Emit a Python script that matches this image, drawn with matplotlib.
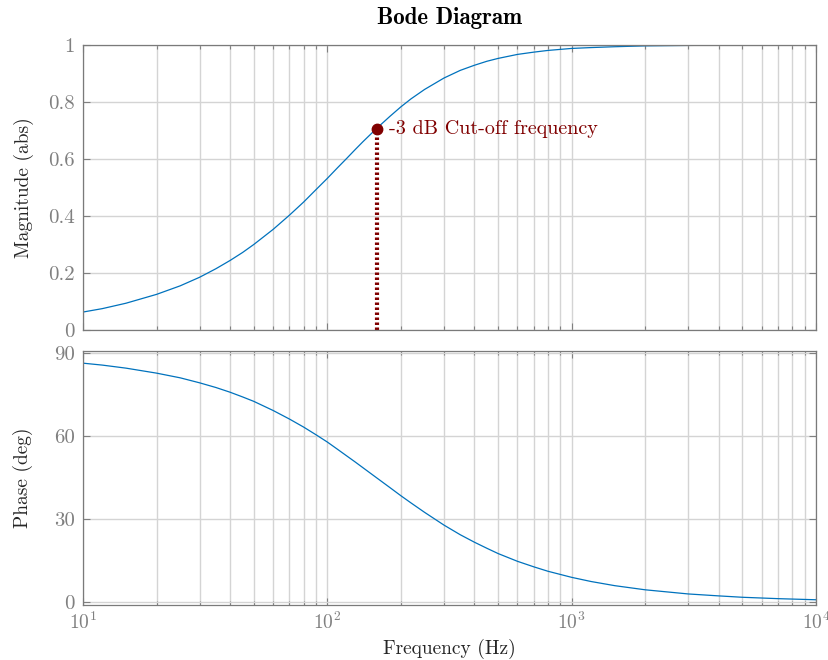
import matplotlib
matplotlib.use('Agg')
import matplotlib.pyplot as plt
from matplotlib.ticker import FuncFormatter, LogLocator, NullFormatter

# values
freq = [10, 12, 15, 20, 25, 30, 35, 40, 45, 50, 60, 70, 80, 90, 100, 110,
        120, 130, 140, 159, 180, 200, 220, 250, 300, 350, 400, 450, 500, 600,
        700, 800, 1000, 1200, 1500, 2000, 3000, 4000, 5000, 7000, 10000]
magnitude = [0.063, 0.075, 0.094, 0.125, 0.155, 0.185, 0.215, 0.244, 0.272,
             0.300, 0.353, 0.403, 0.449, 0.493, 0.532, 0.569, 0.602, 0.633,
             0.661, 0.707, 0.749, 0.783, 0.811, 0.844, 0.884, 0.911, 0.929,
             0.943, 0.953, 0.967, 0.975, 0.981, 0.988, 0.991, 0.994, 0.997,
             0.9986, 0.9992, 0.9995, 0.9997, 0.9999]
phase = [86.4, 85.7, 84.6, 82.8, 81.1, 79.3, 77.6, 75.9, 74.2, 72.6, 69.3,
         66.2, 63.3, 60.5, 57.9, 55.3, 52.9, 50.7, 48.6, 45.0, 41.5, 38.5,
         35.9, 32.5, 27.9, 24.4, 21.7, 19.5, 17.6, 14.8, 12.8, 11.2, 9.0,
         7.5, 6.0, 4.5, 3.0, 2.3, 1.8, 1.3, 0.9]
cutoff_freq = 159
cutoff_mag = 0.707
mag_ticks = [0, 0.2, 0.4, 0.6, 0.8, 1]
phase_ticks = [0, 30, 60, 90]

plt.rcParams['font.family'] = 'cmr10'
plt.rcParams['mathtext.fontset'] = 'cm'
plt.rcParams['axes.formatter.use_mathtext'] = True
plt.rcParams['axes.unicode_minus'] = False

lineBlue = '#0072bd'
darkRed = '#800000'
tickGray = '#808080'
gridGray = '#d4d4d4'
labelColor = '#262626'

fig = plt.figure(figsize=(8.29, 6.6), dpi=100)
axMag = fig.add_axes([0.1001, 0.5, 0.8842, 0.4318])
axPh = fig.add_axes([0.1001, 0.0833, 0.8842, 0.3849])

def styleAxis(ax):
    ax.set_xscale('log')
    ax.set_xlim(10, 10000)
    ax.xaxis.set_minor_locator(LogLocator(base=10, subs=range(2, 10)))
    ax.xaxis.set_minor_formatter(NullFormatter())
    ax.grid(True, which='major', color=gridGray, linewidth=1.0)
    ax.grid(True, which='minor', axis='x', color=gridGray, linewidth=1.0)
    ax.set_axisbelow(True)
    ax.tick_params(which='both', direction='in', top=True, right=True,
                   colors=tickGray, labelsize=15, width=0.8)
    ax.tick_params(which='major', length=5)
    ax.tick_params(which='minor', length=3)
    ax.tick_params(axis='x', which='major', pad=5, labelsize=14)
    ax.tick_params(axis='y', which='major', pad=6)
    for sp in ax.spines.values():
        sp.set_color('#7a7a7a')
        sp.set_linewidth(0.9)

styleAxis(axMag)
styleAxis(axPh)

axMag.plot(freq, magnitude, color=lineBlue, linewidth=0.9)
axMag.plot([cutoff_freq, cutoff_freq], [0, cutoff_mag], color=darkRed,
           linestyle=(0, (0.6, 0.6)), linewidth=3)
axMag.plot([cutoff_freq], [cutoff_mag], 'o', color=darkRed, markersize=7.5)
axMag.text(cutoff_freq * 1.12, cutoff_mag, '-3 dB Cut-off frequency',
           color=darkRed, fontsize=14.5, va='center', ha='left')
axMag.set_ylim(0, 1)
axMag.set_yticks(mag_ticks)
axMag.yaxis.set_major_formatter(FuncFormatter(lambda v, p: '%g' % v))
axMag.tick_params(labelbottom=False)
axMag.set_ylabel('Magnitude (abs)', fontsize=14, color=labelColor, labelpad=10)
axMag.set_title('Bode Diagram', fontsize=16.5, family='cmb10', pad=15)

axPh.plot(freq, phase, color=lineBlue, linewidth=0.9)
axPh.set_ylim(-1, 90.8)
axPh.set_yticks(phase_ticks)
axPh.yaxis.set_major_formatter(FuncFormatter(lambda v, p: '%g' % v))
axPh.set_ylabel('Phase (deg)', fontsize=14, color=labelColor, labelpad=15)
axPh.set_xlabel('Frequency (Hz)', fontsize=14, color=labelColor, labelpad=4)

fig.savefig('out.png', dpi=100)
